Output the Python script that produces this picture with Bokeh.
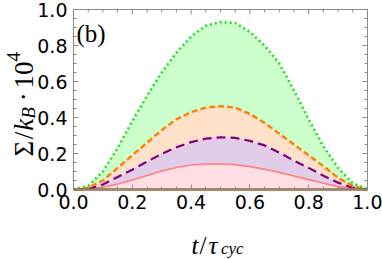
import math
from bokeh.plotting import figure
from bokeh.models import LinearAxis, FixedTicker, Label, Range1d, ColumnDataSource
from bokeh.embed import file_html
from bokeh.resources import INLINE

# ---- data ----
t_vals = [0.0, 0.05, 0.1, 0.15, 0.2, 0.25, 0.3, 0.35, 0.4, 0.45, 0.5,
          0.55, 0.6, 0.65, 0.7, 0.75, 0.8, 0.85, 0.9, 0.95, 1.0]
sigma_green = [0.0, 0.02, 0.10, 0.23, 0.38, 0.52, 0.65, 0.76, 0.85, 0.91, 0.93,
               0.925, 0.875, 0.80, 0.70, 0.55, 0.39, 0.24, 0.12, 0.035, 0.0]
sigma_orange = [0.0, 0.01, 0.05, 0.12, 0.19, 0.26, 0.33, 0.39, 0.43, 0.455, 0.463,
                0.455, 0.42, 0.37, 0.31, 0.25, 0.19, 0.13, 0.065, 0.02, 0.0]
sigma_purple = [0.0, 0.003, 0.028, 0.07, 0.11, 0.155, 0.198, 0.235, 0.263, 0.283, 0.29,
                0.287, 0.27, 0.245, 0.205, 0.16, 0.12, 0.077, 0.038, 0.01, 0.0]
sigma_pink = [0.0, 0.004, 0.012, 0.03, 0.053, 0.078, 0.103, 0.122, 0.136, 0.142, 0.143,
              0.138, 0.127, 0.112, 0.095, 0.075, 0.055, 0.035, 0.016, 0.005, 0.0]
sigma_brown = [0.0] * 21

x_ticks = [0.0, 0.2, 0.4, 0.6, 0.8, 1.0]
x_tick_labels = ["0.0", "0.2", "0.4", "0.6", "0.8", "1.0"]
y_ticks = [0.0, 0.2, 0.4, 0.6, 0.8, 1.0]
y_tick_labels = ["0.0", "0.2", "0.4", "0.6", "0.8", "1.0"]
minor_ticks = [0.0, 0.05, 0.1, 0.15, 0.2, 0.25, 0.3, 0.35, 0.4, 0.45, 0.5,
               0.55, 0.6, 0.65, 0.7, 0.75, 0.8, 0.85, 0.9, 0.95, 1.0]

# ---- layout (pixels) ----
W, H = 382, 259
FL, FR, FT, FB = 73, 367, 9, 189          # plot box edges on the canvas
sx = (FR - FL)                             # px per x unit
sy = (FB - FT)                             # px per y unit
GRAY = "#8a8a8a"

src = ColumnDataSource(dict(t=t_vals, g=sigma_green, o=sigma_orange, pu=sigma_purple,
                            pk=sigma_pink, z=sigma_brown))

p = figure(width=W, height=H, output_backend="svg", toolbar_location=None,
           x_range=Range1d(-FL / sx, 1 + (W - FR) / sx),
           y_range=Range1d(-(H - FB) / sy, 1 + FT / sy),
           min_border=0, x_axis_location=None, y_axis_location=None)
p.grid.visible = False
p.outline_line_color = None
p.background_fill_color = "white"
p.border_fill_color = "white"

# fills (bands)
p.varea(x="t", y1="o", y2="g", source=src, fill_color="#ccffcc")
p.varea(x="t", y1="pu", y2="o", source=src, fill_color="#ffe0c8")
p.varea(x="t", y1="pk", y2="pu", source=src, fill_color="#e2cde8")
p.varea(x="t", y1="z", y2="pk", source=src, fill_color="#ffdfe3")

# frame top/right borders and inward ticks
p.segment(x0=[0, 1], y0=[1, 0], x1=[1, 1], y1=[1, 1], line_color=GRAY, line_width=1)
minor_only = [m for m in minor_ticks if all(abs(m - t) > 1e-9 for t in x_ticks)]
p.segment(x0=x_ticks, y0=[1] * len(x_ticks), x1=x_ticks, y1=[1 - 5 / sy] * len(x_ticks),
          line_color=GRAY, line_width=1)
p.segment(x0=minor_only, y0=[1] * len(minor_only), x1=minor_only,
          y1=[1 - 3 / sy] * len(minor_only), line_color=GRAY, line_width=1)
p.segment(x0=[1] * len(y_ticks), y0=y_ticks, x1=[1 - 5 / sx] * len(y_ticks), y1=y_ticks,
          line_color=GRAY, line_width=1)
p.segment(x0=[1] * len(minor_only), y0=minor_only, x1=[1 - 3 / sx] * len(minor_only),
          y1=minor_only, line_color=GRAY, line_width=1)

# lines
p.line(x="t", y="pk", source=src, line_color="#ff8080", line_width=1.6)
p.line(x="t", y="pu", source=src, line_color="#800080", line_width=2.2, line_dash="9 5")
p.line(x="t", y="o", source=src, line_color="#ff8000", line_width=2.4, line_dash="6 3")
p.line(x="t", y="g", source=src, line_color="#22e022", line_width=2.6, line_dash="2 3")
p.line(x="t", y="z", source=src, line_color="#996633", line_width=2.5)

def make_axis(ticks, labels, standoff):
    ax = LinearAxis(ticker=FixedTicker(ticks=ticks, minor_ticks=minor_ticks),
                    fixed_location=0, bounds=(0, 1))
    ax.axis_line_color = GRAY
    ax.major_tick_line_color = GRAY
    ax.minor_tick_line_color = GRAY
    ax.major_tick_in = 5
    ax.major_tick_out = 0
    ax.minor_tick_in = 3
    ax.minor_tick_out = 0
    ax.major_label_overrides = {tk: lb for tk, lb in zip(ticks, labels)}
    ax.major_label_text_font = "DejaVu Sans"
    ax.major_label_text_font_size = "19px"
    ax.major_label_text_color = "black"
    ax.major_label_standoff = standoff
    return ax

p.add_layout(make_axis(x_ticks, x_tick_labels, 5), "below")
p.add_layout(make_axis(y_ticks, y_tick_labels, 6), "left")

SERIF = "Liberation Serif"

def add_piece(x, y, text, size, style, angle=0.0):
    # x, y: canvas pixels from left / from bottom
    p.add_layout(Label(x=x, y=y, x_units="screen", y_units="screen", text=text,
                       text_font=SERIF, text_font_size=f"{size}px", text_font_style=style,
                       text_color="black", angle=angle, text_align="left",
                       text_baseline="alphabetic"))

# panel label
add_piece(76, H - 33, "(b)", 25, "normal")

# x label: t / tau_cyc
main, sub = 25, 17
xs = 191
yb = H - 245
for txt, size, style, shift, adv in [("t", main, "italic", 0, 0.278 * main + 1),
                                     ("/", main, "normal", 0, 0.278 * main + 2),
                                     ("\u03c4", main, "italic", 0, 0.46 * main + 1),
                                     ("cyc", sub, "italic", -3, 1.33 * sub)]:
    add_piece(xs, yb + shift, txt, size, style)
    xs += adv

# y label: Sigma / k_B . 10^4 (rotated, reading upwards)
main, sub = 27, 19
ys = H - 156
xb = 23
for txt, size, style, shift, adv in [("\u03a3", main, "normal", 0, 0.60 * main + 1),
                                     ("/", main, "normal", 0, 0.278 * main + 1),
                                     ("k", main, "italic", 0, 0.444 * main),
                                     ("B", sub, "italic", 5, 0.611 * sub + 0.22 * main),
                                     ("\u00b7", main, "normal", 0, 0.25 * main + 0.22 * main),
                                     ("10", main, "normal", 0, 1.0 * main),
                                     ("4", sub, "normal", -10, 0.5 * sub)]:
    add_piece(xb + shift, ys, txt, size, style, angle=math.pi / 2)
    ys += adv

open("out.html", "w").write(file_html(p, INLINE))
